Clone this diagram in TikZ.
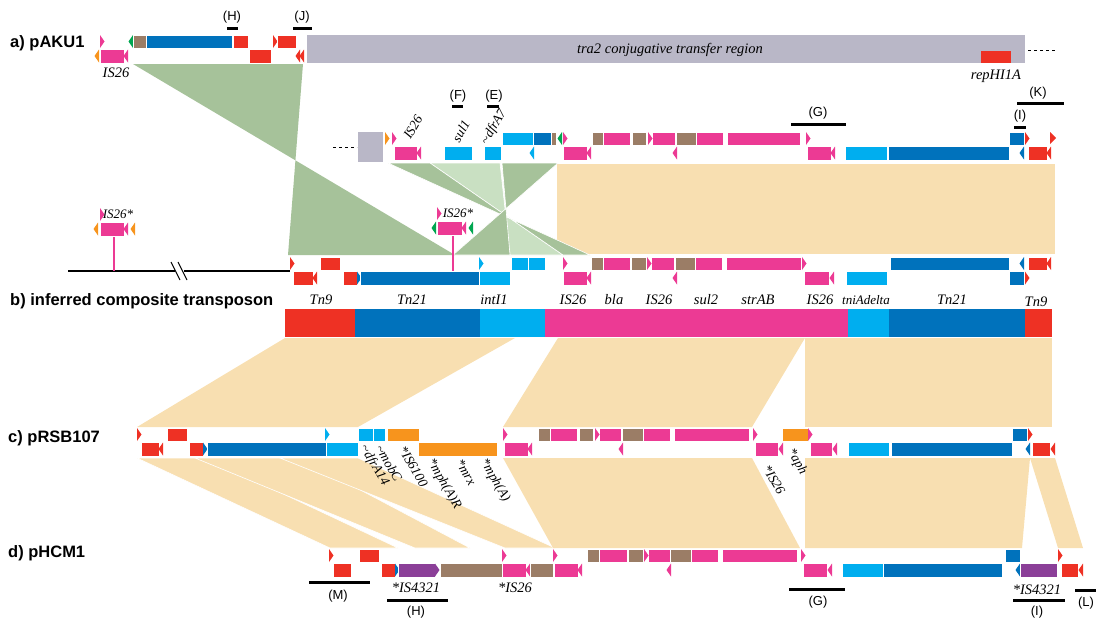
\documentclass[tikz,border=0pt]{standalone}
\usepackage{fontspec}
\setmainfont{Liberation Serif}
\newfontfamily\labfont{Liberation Sans}
\definecolor{tnred}{HTML}{EE3124}
\definecolor{tnblue}{HTML}{0072BC}
\definecolor{tncyan}{HTML}{00AEEF}
\definecolor{tnpink}{HTML}{EC3A94}
\definecolor{tnbrown}{HTML}{9B7D66}
\definecolor{tnorange}{HTML}{F7941D}
\definecolor{tngreen}{HTML}{00A650}
\definecolor{tnpurple}{HTML}{8B3F98}
\definecolor{tngray}{HTML}{B9B7C7}
\definecolor{lkgreen}{HTML}{A6C29A}
\definecolor{lklight}{HTML}{C9E0C2}
\definecolor{lktan}{HTML}{F8DFB1}
\newcommand\gup[3]{\draw[gbox,fill=#3] (#1,\ry) rectangle (#2,\ry+13);}
\newcommand\glo[3]{\draw[gbox,fill=#3] (#1,\ry+14.5) rectangle (#2,\ry+28);}
\newcommand\rtri[3]{\fill[#3] (#1,\ry+#2) -- ++(4.5,6.5) -- ++(-4.5,6.5) -- cycle;}
\newcommand\ltri[3]{\fill[#3] (#1,\ry+#2) -- ++(-4.5,6.5) -- ++(4.5,6.5) -- cycle;}
\tikzset{
  gbox/.style={draw=white,line width=0.5pt},
  glab/.style={font=\fontsize{14.5}{16}\selectfont\itshape,inner sep=0pt},
  rlab/.style={font=\fontsize{13.5}{15}\selectfont\itshape,inner sep=0pt},
  rowlab/.style={font=\labfont\bfseries\fontsize{16.5}{18}\selectfont,anchor=west,inner sep=0pt},
  seglab/.style={font=\labfont\fontsize{13}{15}\selectfont,inner sep=0pt},
  segbar/.style={line width=3pt},
  link/.style={draw=white,line width=0.6pt}
}
\begin{document}
\begin{tikzpicture}[x=1pt,y=-1pt]
\useasboundingbox (0,0) rectangle (1096,621);
% links
\fill[lkgreen] (133,64) -- (303,64) -- (288,255) -- (455,255) -- cycle;
\fill[lktan] (557,164) rectangle (1055,254);
\draw[link,fill=lklight] (430,163) -- (500,163) -- (510,255) -- (563,255) -- cycle;
\draw[link,fill=lkgreen] (388,163) -- (430,163) -- (563,255) -- (590,255) -- cycle;
\draw[link,fill=lkgreen] (502,163) -- (558,163) -- (453,255) -- (510,255) -- cycle;
\fill[lktan] (285,338) -- (515,338) -- (358,427) -- (137,427) -- cycle;
\fill[lktan] (558,338) -- (805,338) -- (752,427) -- (503,427) -- cycle;
\fill[lktan] (805,338) -- (1052,338) -- (1052,427) -- (805,427) -- cycle;
\draw[link,fill=lktan] (137,458) -- (207,458) -- (398,548) -- (330,548) -- cycle;
\draw[link,fill=lktan] (195,458) -- (300,458) -- (470,548) -- (415,548) -- cycle;
\draw[link,fill=lktan] (280,458) -- (358,458) -- (555,548) -- (505,548) -- cycle;
\fill[lktan] (503,458) -- (752,458) -- (800,548) -- (553,548) -- cycle;
\fill[lktan] (805,458) -- (1030,458) -- (1022,548) -- (805,548) -- cycle;
\fill[lktan] (1030,458) -- (1055,458) -- (1083,548) -- (1058,548) -- cycle;

% a) pAKU1
\node[rowlab] (rowa) at (10,43) {a) pAKU1};
\def\ry{35}
\rtri{100}{0}{tnpink}
\ltri{133}{0}{tngreen}
\gup{133}{146}{tnbrown}
\gup{146}{232}{tnblue}
\gup{233}{248}{tnred}
\rtri{273}{0}{tnred}
\gup{277}{296}{tnred}
\ltri{99}{14.5}{tnorange}
\glo{100}{124}{tnpink}
\ltri{128}{14.5}{tnpink}
\glo{249}{271}{tnred}
\ltri{300}{14.5}{tnred}
\ltri{304}{14.5}{tnred}
\fill[tngray] (307,35) rectangle (1025,63);
\fill[tnred] (981,51) rectangle (1011,63);
\draw[dashed,line width=0.8pt] (1028,50) -- (1056,50);
\node[glab] (tra) at (670,50) {tra2 conjugative transfer region};
\node[glab] (rep) at (996,76) {repHI1A};
\node[glab] (isa) at (116,73) {IS26};
\node[seglab] (hlab) at (232,17) {(H)};
\draw[segbar] (227,28) -- (238,28);
\node[seglab] (jlab) at (302,17) {(J)};
\draw[segbar] (293,28) -- (312,28);

% a) second part
\def\ry{132}
\draw[dashed,line width=0.8pt] (333,147) -- (357,147);
\fill[tngray] (358,132) rectangle (383,162);
\rtri{385}{0}{tnorange}
\rtri{392}{0}{tnpink}
\glo{394}{417}{tnpink}
\ltri{421}{14.5}{tnpink}
\glo{444}{472}{tncyan}
\glo{484}{501}{tncyan}
\gup{502}{533}{tncyan}
\gup{533}{551}{tnblue}
\gup{551}{556}{tnbrown}
\ltri{562}{0}{tngreen}
\rtri{563}{0}{tnpink}
\ltri{534}{14.5}{tncyan}
\glo{563}{587}{tnpink}
\ltri{591}{14.5}{tnpink}
\foreach \a/\b/\c in {592/603/tnbrown,603/630/tnpink,632/646/tnbrown,652/675/tnpink,676/696/tnbrown,696/723/tnpink,727/800/tnpink} {\gup{\a}{\b}{\c}}
\rtri{648}{0}{tnpink}
\rtri{806}{0}{tnpink}
\ltri{677}{14.5}{tnpink}
\glo{807}{831}{tnpink}
\ltri{835}{14.5}{tnpink}
\glo{845}{887}{tncyan}
\glo{888}{1009}{tnblue}
\gup{1009}{1024}{tnblue}
\rtri{1025}{0}{tnred}
\fill[tnred] (1050,132) -- (1056,138) -- (1050,144) -- cycle;
\ltri{1024}{14.5}{tnblue}
\glo{1028}{1047}{tnred}
\ltri{1051}{14.5}{tnred}
\node[rlab,rotate=60] (ismid) at (413,127) {IS26};
\node[rlab,rotate=60] (sul) at (461,131) {sul1};
\node[rlab,rotate=60] (dfr) at (494,127) {\textasciitilde dfrA7};
\node[seglab] (flab) at (458,96) {(F)};
\draw[segbar] (452,106) -- (463,106);
\node[seglab] (elab) at (494,96) {(E)};
\draw[segbar] (487,106) -- (499,106);
\node[seglab] (glabu) at (818,113) {(G)};
\draw[segbar] (791,124) -- (846,124);
\node[seglab] (klab) at (1038,93) {(K)};
\draw[segbar] (1017,103) -- (1064,103);
\node[seglab] (ilabu) at (1020,116) {(I)};
\draw[segbar] (1014,127) -- (1026,127);

% IS26* insertions
\draw[line width=1.2pt] (68,271) -- (175,271);
\draw[line width=1.2pt] (184,271) -- (290,271);
\draw[line width=1pt] (171,262) -- (180,280);
\draw[line width=1pt] (178,262) -- (187,280);
\def\ry{208}
\draw[tnpink,line width=1.2pt] (114,236) -- (114,271);
\rtri{100}{0}{tnpink}
\ltri{98}{14.5}{tnorange}
\glo{100}{124}{tnpink}
\ltri{128}{14.5}{tnpink}
\ltri{135}{14.5}{tnorange}
\node[rlab,font=\fontsize{13}{15}\selectfont\itshape] (isl) at (118,214) {IS26*};
\def\ry{207}
\draw[tnpink,line width=1.2pt] (453,235) -- (453,271);
\rtri{437}{0}{tnpink}
\ltri{436}{14.5}{tngreen}
\glo{437}{462}{tnpink}
\ltri{466}{14.5}{tnpink}
\ltri{473}{14.5}{tngreen}
\node[rlab,font=\fontsize{13}{15}\selectfont\itshape] (isr) at (458,213) {IS26*};

% b) inferred composite transposon
\def\ry{257}
\rtri{290}{0}{tnred}
\gup{320}{340}{tnred}
\glo{293}{313}{tnred}
\ltri{317}{14.5}{tnred}
\glo{343}{357}{tnred}
\rtri{357}{14.5}{tnblue}
\glo{360}{479}{tnblue}
\rtri{479}{0}{tncyan}
\glo{479}{510}{tncyan}
\gup{511}{528}{tncyan}
\gup{528}{545}{tncyan}
\rtri{563}{0}{tnpink}
\glo{563}{587}{tnpink}
\ltri{591}{14.5}{tnpink}
\foreach \a/\b/\c in {591/603/tnbrown,603/630/tnpink,631/646/tnbrown,651/674/tnpink,675/695/tnbrown,695/722/tnpink,726/801/tnpink} {\gup{\a}{\b}{\c}}
\rtri{647}{0}{tnpink}
\rtri{802}{0}{tnpink}
\ltri{677}{14.5}{tnpink}
\glo{804}{829}{tnpink}
\ltri{834}{14.5}{tnpink}
\glo{846}{887}{tncyan}
\gup{890}{1009}{tnblue}
\ltri{1024}{0}{tnblue}
\gup{1028}{1047}{tnred}
\ltri{1051}{0}{tnred}
\glo{1009}{1024}{tnblue}
\rtri{1025}{14.5}{tnred}
\node[rowlab] (rowb) at (10,301) {b) inferred composite transposon};
\foreach \x/\t in {321/Tn9,412/Tn21,494/intI1,573/IS26,614/bla,659/IS26,706/sul2,758/strAB,820/IS26,952/Tn21}
  \node[glab] (lb\x) at (\x,300) {\t};
\node[glab,font=\fontsize{13}{15}\selectfont\itshape] (tni) at (866,300) {tniAdelta};
\node[glab] (tnr) at (1036,302) {Tn9};
\foreach \a/\b/\c in {285/355/tnred,355/480/tnblue,480/545/tncyan,545/848/tnpink,848/889/tncyan,889/1025/tnblue,1025/1052/tnred}
  \fill[\c] (\a,309) rectangle (\b,337);

% c) pRSB107
\def\ry{428}
\node[rowlab] (rowc) at (8,438) {c) pRSB107};
\rtri{137}{0}{tnred}
\glo{141}{159}{tnred}
\ltri{163}{14.5}{tnred}
\gup{167}{187}{tnred}
\glo{189}{203}{tnred}
\rtri{203}{14.5}{tnblue}
\glo{207}{326}{tnblue}
\rtri{325}{0}{tncyan}
\glo{326}{358}{tncyan}
\gup{358}{373}{tncyan}
\gup{373}{385}{tncyan}
\gup{387}{419}{tnorange}
\glo{418}{497}{tnorange}
\rtri{503}{0}{tnpink}
\glo{504}{528}{tnpink}
\ltri{532}{14.5}{tnpink}
\foreach \a/\b/\c in {538/550/tnbrown,550/577/tnpink,579/593/tnbrown,599/621/tnpink,622/643/tnbrown,643/670/tnpink,674/749/tnpink} {\gup{\a}{\b}{\c}}
\rtri{595}{0}{tnpink}
\rtri{753}{0}{tnpink}
\ltri{623}{14.5}{tnpink}
\glo{755}{778}{tnpink}
\ltri{783}{14.5}{tnpink}
\gup{782}{808}{tnorange}
\rtri{808}{0}{tnpink}
\glo{810}{832}{tnpink}
\ltri{837}{14.5}{tnpink}
\glo{848}{889}{tncyan}
\glo{891}{1012}{tnblue}
\gup{1012}{1027}{tnblue}
\rtri{1028}{0}{tnred}
\ltri{1030}{14.5}{tnblue}
\glo{1032}{1050}{tnred}
\ltri{1055}{14.5}{tnred}
\foreach \x/\y/\t in {363/446/\textasciitilde dfrA14,379/446/\textasciitilde mobC,402/447/*IS6100,430/460/*mph(A)R,459/460/*mrx,483/460/*mph(A),766/466/*IS26,790/450/*aph}
  \node[rlab,rotate=-60,anchor=west] at (\x,\y) {\t};

% d) pHCM1
\def\ry{549}
\node[rowlab] (rowd) at (8,553) {d) pHCM1};
\rtri{329}{0}{tnred}
\glo{333}{351}{tnred}
\gup{359}{379}{tnred}
\glo{381}{395}{tnred}
\rtri{395}{14.5}{tnblue}
\glo{398}{435}{tnpurple}
\rtri{435}{14.5}{tnpurple}
\glo{440}{502}{tnbrown}
\rtri{502}{0}{tnpink}
\glo{502}{526}{tnpink}
\ltri{530}{14.5}{tnpink}
\glo{530}{553}{tnbrown}
\rtri{553}{0}{tnpink}
\glo{554}{578}{tnpink}
\ltri{582}{14.5}{tnpink}
\foreach \a/\b/\c in {587/599/tnbrown,599/627/tnpink,628/643/tnbrown,648/670/tnpink,670/691/tnbrown,691/718/tnpink,722/797/tnpink} {\gup{\a}{\b}{\c}}
\rtri{644}{0}{tnpink}
\rtri{801}{0}{tnpink}
\ltri{671}{14.5}{tnpink}
\glo{803}{827}{tnpink}
\ltri{832}{14.5}{tnpink}
\glo{842}{883}{tncyan}
\glo{883}{1002}{tnblue}
\gup{1005}{1020}{tnblue}
\ltri{1020}{14.5}{tnblue}
\glo{1020}{1057}{tnpurple}
\rtri{1058}{0}{tnred}
\glo{1061}{1078}{tnred}
\ltri{1083}{14.5}{tnred}
\node[glab] (is43l) at (416,588) {*IS4321};
\node[glab] (is26d) at (515,588) {*IS26};
\node[glab] (is43r) at (1037,590) {*IS4321};
\draw[segbar] (309,582) -- (370,582);
\node[seglab] (mlab) at (338,596) {(M)};
\draw[segbar] (387,600) -- (448,600);
\node[seglab] (hlabd) at (416,612) {(H)};
\draw[segbar] (789,589) -- (845,589);
\node[seglab] (glabd) at (818,602) {(G)};
\draw[segbar] (1013,600) -- (1065,600);
\node[seglab] (ilabd) at (1037,612) {(I)};
\draw[segbar] (1075,590) -- (1096,590);
\node[seglab] (llab) at (1086,603) {(L)};
\end{tikzpicture}
\end{document}
